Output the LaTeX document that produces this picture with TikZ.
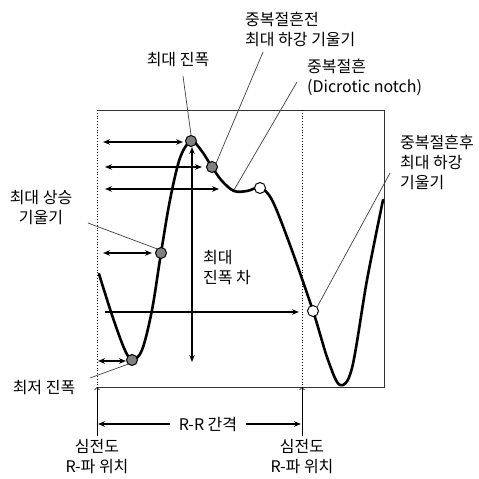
\documentclass[tikz,border=0pt]{standalone}
\usepackage{fontspec}
\setmainfont{Noto Sans CJK KR}
\usetikzlibrary{arrows.meta}
\begin{document}
\begin{tikzpicture}[x=1pt,y=-1pt,
  lbl/.style={font=\fontsize{16}{20}\selectfont, inner sep=0pt, align=left},
  dimarrow/.style={line width=1.4pt, {Stealth[length=7pt,width=5.5pt]}-{Stealth[length=7pt,width=5.5pt]}},
  onearrow/.style={line width=1.4pt, -{Stealth[length=7pt,width=5.5pt]}},
  leader/.style={line width=0.7pt, draw=black!75},
  gdot/.style={circle, draw=black, line width=1pt, fill=black!50, minimum size=11pt, inner sep=0pt},
  wdot/.style={circle, draw=black, line width=1pt, fill=white, minimum size=11pt, inner sep=0pt}]
\useasboundingbox (0,0) rectangle (479,479);
\fill[white] (0,0) rectangle (479,479);
% frame
\draw[line width=0.8pt, black!80] (97,110) -- (384,110) -- (384,387) -- (97,387);
\draw[dotted, line width=0.8pt] (97,110) -- (97,387);
\draw[dotted, line width=0.8pt] (302,110) -- (302,387);
\draw[line width=0.7pt, {Straight Barb[length=2.5pt,width=5pt]}-] (97,387) -- (97,436);
\draw[line width=0.7pt, {Straight Barb[length=2.5pt,width=5pt]}-] (302,387) -- (302,436);
% curve
\draw[line width=2.6pt, line join=round, line cap=round] plot[smooth, tension=0.55] coordinates {
 (99,274) (112,315) (124,348) (132,360) (142,350) (152,310) (161,253) (170,200) (180,158) (191,141)
 (201,150) (212,167) (222,181) (234,191) (247,191) (260,188) (272,200) (290,245) (313,311)
 (328,360) (340,385) (352,368) (367,280) (383,200)};
% dots
\node[gdot] (peak) at (191,141) {};
\node[gdot] (pre) at (212,167) {};
\coordinate (notch) at (234,190);
\node[wdot] (wd1) at (260,188) {};
\node[gdot] (up) at (161,253) {};
\node[gdot] (low) at (132,360) {};
\node[wdot] (post) at (313,311) {};
% horizontal arrows
\coordinate (a1l) at (103,142); \coordinate (a1r) at (183,142);
\coordinate (a2l) at (105,167); \coordinate (a2r) at (202,167);
\coordinate (a3l) at (105,189); \coordinate (a3r) at (219,189);
\coordinate (a4l) at (103,253); \coordinate (a4r) at (152,253);
\coordinate (a5l) at (105,312); \coordinate (a5r) at (299,312);
\coordinate (a6l) at (98,361);  \coordinate (a6r) at (126,361);
\draw[dimarrow] (a1l) -- (a1r);
\draw[dimarrow] (a2l) -- (a2r);
\draw[dimarrow] (a3l) -- (a3r);
\draw[dimarrow] (a4l) -- (a4r);
\draw[onearrow] (a5l) -- (a5r);
\draw[dimarrow] (a6l) -- (a6r);
% vertical arrow
\coordinate (vt) at (192,147); \coordinate (vb) at (192,362);
\draw[dimarrow, line width=1.2pt] (vt) -- (vb);
% R-R
\coordinate (rrl) at (98,424); \coordinate (rrr) at (301,424);
\draw[dimarrow, line width=1.2pt] (rrl) -- (rrr);
\node[lbl, fill=white, inner xsep=9pt, inner ysep=2pt] (rr) at (208,424) {R-R 간격};
% labels
\node[lbl, anchor=center] (maxamp) at (178,60) {최대 진폭};
\node[lbl, anchor=north west] (prelbl) at (245,12) {중복절흔전\\최대 하강 기울기};
\node[lbl, anchor=north west] (notchlbl) at (307,59) {중복절흔\\(Dicrotic notch)};
\node[lbl, anchor=north west] (postlbl) at (400,135) {중복절흔후\\최대 하강\\기울기};
\node[lbl, align=center, anchor=north] (uplbl) at (41,190) {최대 상승\\기울기};
\node[lbl, anchor=center] (lowlbl) at (44,388) {최저 진폭};
\node[lbl, anchor=north west] (difflbl) at (203,250) {최대\\진폭 차};
\node[lbl, align=center, anchor=north] (ecg1) at (97,439) {심전도\\R-파 위치};
\node[lbl, align=center, anchor=north] (ecg2) at (302,439) {심전도\\R-파 위치};
% leaders
\coordinate (l1) at (183,76);
\coordinate (l2) at (263,52);
\coordinate (l3) at (297,82);
\coordinate (l4) at (390,173);
\coordinate (l5) at (88,223);
\coordinate (l6) at (90,378);
\draw[leader] (l1) -- (peak.north);
\draw[leader] (l2) -- (pre.north east);
\draw[leader] (l3) -- (notch);
\draw[leader] (l4) -- (post.north east);
\draw[leader] (l5) -- (up.north west);
\draw[leader] (l6) -- (low.south west);
\end{tikzpicture}
\end{document}
